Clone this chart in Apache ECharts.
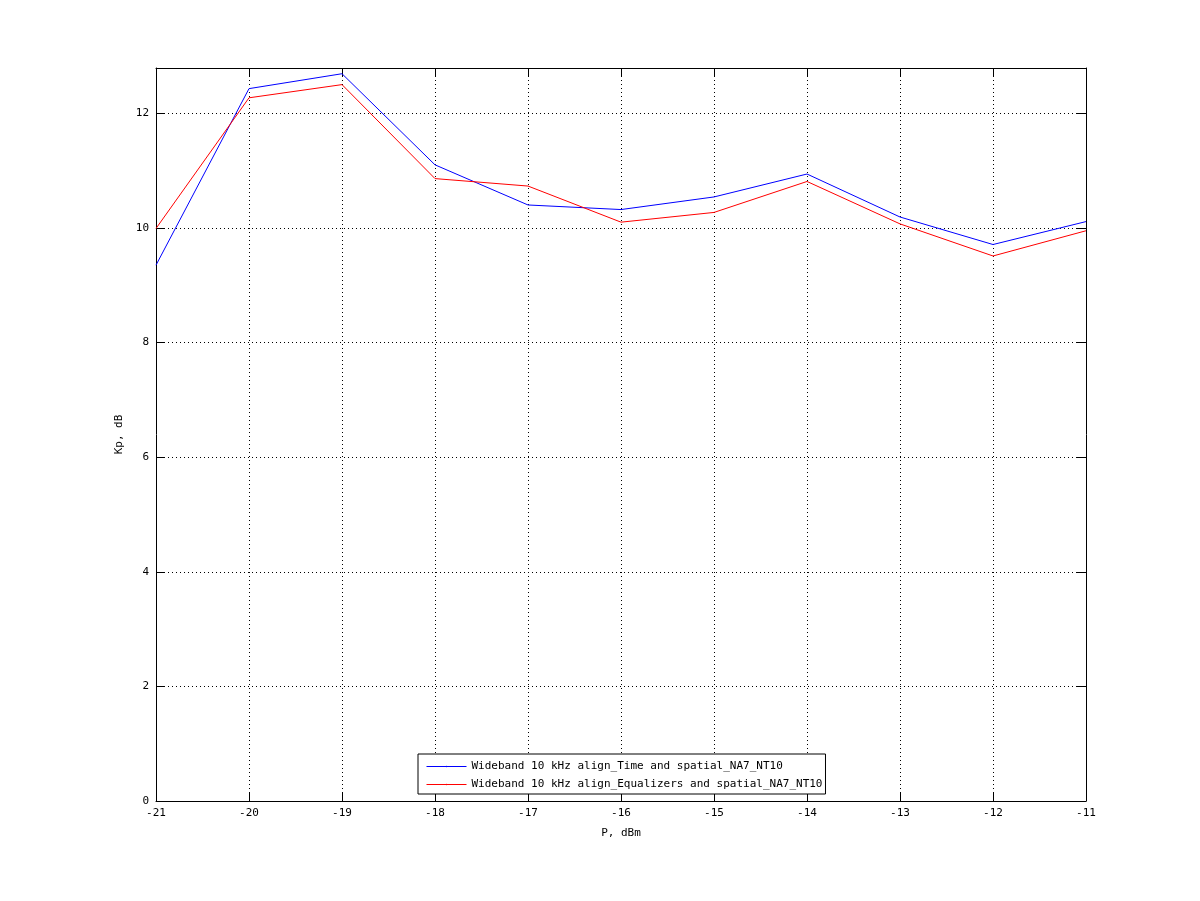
<!DOCTYPE html>
<html><head><meta charset="utf-8">
<script src="https://cdn.jsdelivr.net/npm/echarts@6/dist/echarts.min.js"></script>
<style>html,body{margin:0;padding:0;background:#fff}#c{width:1200px;height:901px}</style>
</head><body><div id="c"></div>
<script>
var pPower = [-21, -20, -19, -18, -17, -16, -15, -14, -13, -12, -11];
var kpTime = [9.35, 12.43, 12.69, 11.10, 10.40, 10.32, 10.54, 10.94, 10.19, 9.71, 10.11];
var kpEq   = [9.99, 12.27, 12.50, 10.86, 10.73, 10.10, 10.27, 10.81, 10.07, 9.51, 9.95];
var nameTime = 'Wideband 10 kHz align_Time and spatial_NA7_NT10';
var nameEq = 'Wideband 10 kHz align_Equalizers and spatial_NA7_NT10';

function pairs(xs, ys){ return xs.map(function(x,i){ return [x, ys[i]]; }); }
var font = 'DejaVu Sans Mono';
var chart = echarts.init(document.getElementById('c'), null, {renderer:'canvas'});
var dotted = {color:'#000', width:1, type:[1,3]};
chart.setOption({
  animation:false,
  backgroundColor:'#fff',
  color:['#0000ff','#ff0000'],
  grid:{left:156, right:114, top:68, bottom:100, show:false},
  xAxis:[{
    type:'value', min:-21, max:-11, interval:1, position:'bottom',
    name:'P, dBm', nameLocation:'middle', nameGap:27,
    nameTextStyle:{fontFamily:font, fontSize:11, color:'#000'},
    axisLine:{show:true, lineStyle:{color:'#000', width:1}},
    axisTick:{show:true, inside:true, length:9, lineStyle:{color:'#000'}},
    axisLabel:{fontFamily:font, fontSize:11, color:'#000', margin:7},
    splitLine:{show:true, lineStyle:dotted}
  },{
    type:'value', min:-21, max:-11, interval:1, position:'top',
    axisLine:{show:true, onZero:false, lineStyle:{color:'#000', width:1}},
    axisTick:{show:true, inside:true, length:9, lineStyle:{color:'#000'}},
    axisLabel:{show:false}, splitLine:{show:false}
  }],
  yAxis:[{
    type:'value', min:0, max:12.79, interval:2, position:'left',
    name:'Kp, dB', nameLocation:'middle', nameGap:28, nameRotate:90,
    nameTextStyle:{fontFamily:font, fontSize:11, color:'#000'},
    axisLine:{show:true, lineStyle:{color:'#000', width:1}},
    axisTick:{show:true, inside:true, length:9, lineStyle:{color:'#000'}},
    axisLabel:{fontFamily:font, fontSize:11, color:'#000', margin:7, showMaxLabel:false},
    splitLine:{show:true, lineStyle:dotted}
  },{
    type:'value', min:0, max:12.79, interval:2, position:'right',
    axisLine:{show:true, onZero:false, lineStyle:{color:'#000', width:1}},
    axisTick:{show:true, inside:true, length:9, lineStyle:{color:'#000'}},
    axisLabel:{show:false}, splitLine:{show:false}
  }],
  legend:{
    orient:'vertical', left:418, top:754,
    backgroundColor:'#fff', borderColor:'#000', borderWidth:1,
    padding:[7,3,4,8], itemGap:7, itemWidth:40, itemHeight:2,
    textStyle:{fontFamily:font, fontSize:11, color:'#000'},
    data:[
      {name:nameTime, lineStyle:{color:'#0000ff', width:1}, itemStyle:{color:'#0000ff'}},
      {name:nameEq, lineStyle:{color:'#ff0000', width:1}, itemStyle:{color:'#ff0000'}}
    ]
  },
  series:[
    {name:nameTime, type:'line', data:pairs(pPower,kpTime), symbol:'none', showSymbol:false,
     color:'#0000ff', lineStyle:{color:'#0000ff', width:1}, itemStyle:{color:'#0000ff'}, z:3},
    {name:nameEq, type:'line', data:pairs(pPower,kpEq), symbol:'none', showSymbol:false,
     color:'#ff0000', lineStyle:{color:'#ff0000', width:1}, itemStyle:{color:'#ff0000'}, z:4}
  ]
});
</script></body></html>
